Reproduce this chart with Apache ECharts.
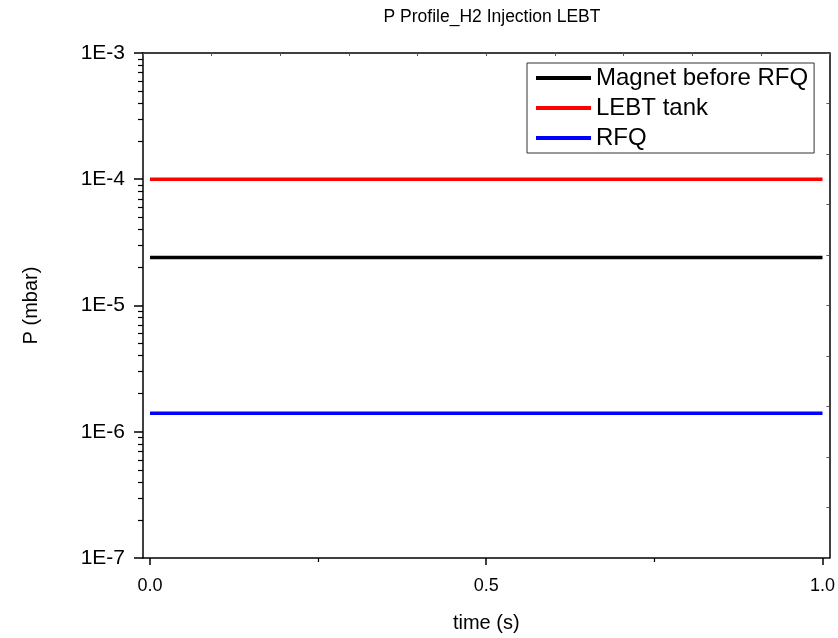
<!DOCTYPE html>
<html>
<head>
<meta charset="utf-8">
<script src="https://cdn.jsdelivr.net/npm/echarts@6/dist/echarts.min.js"></script>
<style>html,body{margin:0;padding:0;background:#fff;}#c{width:838px;height:638px;}</style>
</head>
<body>
<div id="c"></div>
<script>
const titleText = 'P Profile_H2 Injection LEBT';
const seriesNames = ['Magnet before RFQ', 'LEBT tank', 'RFQ'];
const seriesColors = ['#000000', '#ff0000', '#0000ff'];
const timeValues = [0, 1];
const magnetValues = [2.4e-5, 2.4e-5];
const lebtValues = [1.0e-4, 1.0e-4];
const rfqValues = [1.4e-6, 1.4e-6];
const xTickValues = [0, 0.5, 1.0];
const xMinorTickValues = [0.25, 0.75];
const yTickValues = [1e-7, 1e-6, 1e-5, 1e-4, 1e-3];
const yMinorTickValues = [];
for (let e = -7; e <= -4; e++) {
  for (let k = 2; k <= 9; k++) yMinorTickValues.push(+(k * Math.pow(10, e)).toPrecision(3));
}

const FONT = 'Liberation Sans, Arial, sans-serif';
const allSeries = [magnetValues, lebtValues, rfqValues];
const chart = echarts.init(document.getElementById('c'), null, {renderer: 'canvas'});
const axisLineStyle = {color: '#000', width: 1.5};

chart.setOption({
  animation: false,
  backgroundColor: '#fff',
  title: {
    text: titleText, left: 487, textAlign: 'center', top: 3,
    textStyle: {fontFamily: FONT, fontSize: 17.5, fontWeight: 'normal', color: '#000'}
  },
  legend: {
    left: 527, top: 63, orient: 'vertical',
    data: seriesNames,
    icon: 'rect', itemWidth: 55, itemHeight: 4, itemGap: 2,
    padding: [1, 6, 1, 9],
    borderColor: '#333', borderWidth: 1, backgroundColor: '#fff',
    textStyle: {fontFamily: FONT, fontSize: 24, color: '#000', lineHeight: 28}
  },
  grid: {left: 143, top: 53, right: 6, bottom: 80, containLabel: false},
  xAxis: [
    {
      type: 'value', position: 'bottom', min: -0.0104, max: 1.0104,
      name: 'time (s)', nameLocation: 'middle', nameGap: 55,
      nameTextStyle: {fontFamily: FONT, fontSize: 20, color: '#000'},
      axisLine: {show: true, onZero: false, lineStyle: axisLineStyle},
      axisTick: {show: true, inside: false, length: 7, lineStyle: {color: '#000', width: 1.5}, customValues: xTickValues},
      axisLabel: {show: true, margin: 19, fontFamily: FONT, fontSize: 18, color: '#000', customValues: xTickValues,
        formatter: v => v.toFixed(1)},
      splitLine: {show: false}
    },
    {
      type: 'value', position: 'bottom', min: -0.0104, max: 1.0104,
      axisLine: {show: false, onZero: false},
      axisTick: {show: true, inside: false, length: 4, lineStyle: {color: '#000', width: 1.2}, customValues: xMinorTickValues},
      axisLabel: {show: false}, splitLine: {show: false}
    },
    {
      type: 'value', position: 'top', min: 0, max: 10, interval: 1,
      axisLine: {show: true, onZero: false, lineStyle: axisLineStyle},
      axisTick: {show: true, inside: true, length: 3, lineStyle: {color: '#555', width: 1}},
      axisLabel: {show: false}, splitLine: {show: false}
    }
  ],
  yAxis: [
    {
      type: 'log', logBase: 10, position: 'left', min: 1e-7, max: 1e-3,
      name: 'P (mbar)', nameLocation: 'middle', nameGap: 102, nameRotate: 90,
      nameTextStyle: {fontFamily: FONT, fontSize: 20, color: '#000'},
      axisLine: {show: true, onZero: false, lineStyle: axisLineStyle},
      axisTick: {show: true, inside: false, length: 9, lineStyle: {color: '#000', width: 1.5}, customValues: yTickValues},
      axisLabel: {show: true, margin: 18, fontFamily: FONT, fontSize: 21, color: '#000', customValues: yTickValues,
        formatter: v => '1E' + Math.round(Math.log10(v))},
      splitLine: {show: false}
    },
    {
      type: 'log', logBase: 10, position: 'left', min: 1e-7, max: 1e-3,
      axisLine: {show: false, onZero: false},
      axisTick: {show: true, inside: false, length: 5, lineStyle: {color: '#000', width: 1.2}, customValues: yMinorTickValues},
      axisLabel: {show: false}, splitLine: {show: false}
    },
    {
      type: 'value', position: 'right', min: 0, max: 10, interval: 1,
      axisLine: {show: true, onZero: false, lineStyle: axisLineStyle},
      axisTick: {show: true, inside: true, length: 3, lineStyle: {color: '#555', width: 1}},
      axisLabel: {show: false}, splitLine: {show: false}
    }
  ],
  series: seriesNames.map((n, i) => ({
    name: n, type: 'line', xAxisIndex: 0, yAxisIndex: 0,
    data: timeValues.map((t, j) => [t, allSeries[i][j]]),
    showSymbol: false, symbol: 'none',
    lineStyle: {color: seriesColors[i], width: 3.5},
    itemStyle: {color: seriesColors[i]}
  }))
});
</script>
</body>
</html>
